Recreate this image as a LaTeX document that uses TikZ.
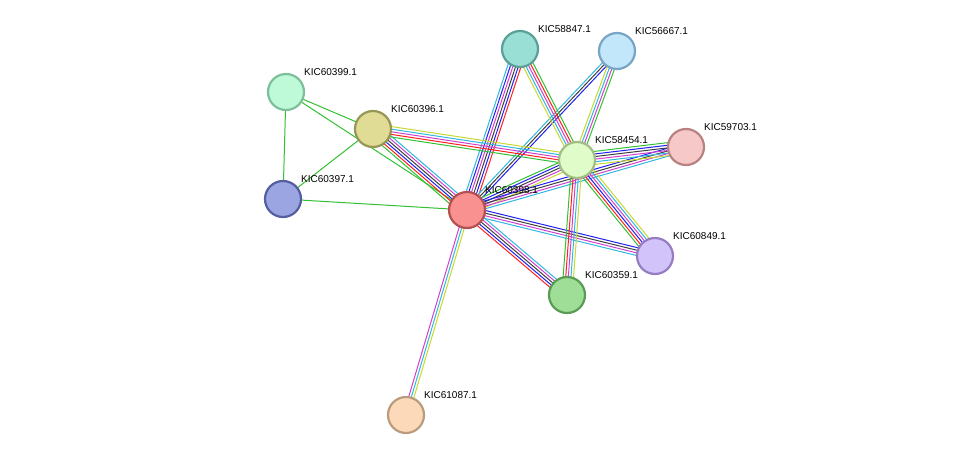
\documentclass[tikz,border=0pt]{standalone}
\usepackage{fontspec}
\setmainfont{Liberation Sans}
\usetikzlibrary{calc}
\definecolor{qg}{HTML}{33C033}\definecolor{qr}{HTML}{FF2020}\definecolor{qb}{HTML}{2020F0}
\definecolor{qk}{HTML}{404040}\definecolor{qm}{HTML}{D040D0}\definecolor{qc}{HTML}{30B8E0}\definecolor{qy}{HTML}{C8D830}
\begin{document}
\begin{tikzpicture}[x=1pt,y=-1pt,
 nd/.style={circle,minimum size=36pt,inner sep=0pt,line width=2.2pt},
 lb/.style={font=\fontsize{10pt}{11pt}\selectfont,anchor=south west,inner sep=1pt}]
\useasboundingbox (0,0) rectangle (975,461);
\newcommand{\E}[3]{\def\lst{#3}%
 \xdef\cnt{0}\foreach \c in \lst{\xdef\cnt{\the\numexpr\cnt+1}}%
 \foreach \c [count=\i] in \lst{\pgfmathsetmacro{\off}{(\i-1-(\cnt-1)/2)*2.6}
  \draw[draw=\c,line width=1pt] ($(#1)!\off pt!90:(#2)$) -- ($(#2)!\off pt!-90:(#1)$);}}
\coordinate (a) at (520,49); \coordinate (b) at (617,51); \coordinate (c) at (286,92);
\coordinate (d) at (373,129); \coordinate (e) at (577,160); \coordinate (f) at (686,147);
\coordinate (g) at (283,199); \coordinate (h) at (467,210); \coordinate (i) at (655,256);
\coordinate (j) at (567,295); \coordinate (k) at (406,415);
\E{c}{g}{qg}\E{c}{d}{qg}\E{c}{h}{qg}\E{d}{g}{qg}\E{g}{h}{qg}
\E{h}{d}{qc,qm,qk,qb,qr,qg}
\E{h}{a}{qr,qb,qk,qm,qb,qc}
\E{h}{b}{qb,qk,qc}
\E{h}{e}{qy,qm,qk,qb,qg}
\E{h}{f}{qc,qm,qk,qb}
\E{h}{i}{qc,qm,qk,qb}
\E{h}{j}{qr,qb,qk,qm,qc}
\E{h}{k}{qm,qc,qy}
\E{d}{e}{qg,qr,qm,qc,qy}
\E{e}{a}{qg,qr,qm,qc,qy}
\E{e}{b}{qg,qm,qc,qy}
\E{e}{f}{qy,qc,qm,qk,qb,qg}
\E{e}{i}{qg,qr,qb,qm,qc,qy}
\E{e}{j}{qg,qr,qm,qc,qy}
\node[nd,fill={rgb,255:red,153;green,223;blue,214},draw={rgb,255:red,90;green,160;blue,150}] (A) at (a) {};
\node[nd,fill={rgb,255:red,194;green,230;blue,250},draw={rgb,255:red,120;green,165;blue,195}] (B) at (b) {};
\node[nd,fill={rgb,255:red,190;green,250;blue,215},draw={rgb,255:red,125;green,190;blue,155}] (C) at (c) {};
\node[nd,fill={rgb,255:red,224;green,220;blue,150},draw={rgb,255:red,150;green,150;blue,85}] (D) at (d) {};
\node[nd,fill={rgb,255:red,224;green,252;blue,200},draw={rgb,255:red,160;green,190;blue,130}] (E) at (e) {};
\node[nd,fill={rgb,255:red,246;green,200;blue,200},draw={rgb,255:red,185;green,130;blue,130}] (F) at (f) {};
\node[nd,fill={rgb,255:red,155;green,165;blue,225},draw={rgb,255:red,85;green,95;blue,160}] (G) at (g) {};
\node[nd,fill={rgb,255:red,250;green,145;blue,145},draw={rgb,255:red,180;green,80;blue,80}] (H) at (h) {};
\node[nd,fill={rgb,255:red,210;green,195;blue,250},draw={rgb,255:red,150;green,125;blue,195}] (I) at (i) {};
\node[nd,fill={rgb,255:red,158;green,222;blue,150},draw={rgb,255:red,90;green,155;blue,85}] (J) at (j) {};
\node[nd,fill={rgb,255:red,252;green,218;blue,185},draw={rgb,255:red,185;green,155;blue,125}] (K) at (k) {};
\node[lb] at (537,34) {KIC58847.1};
\node[lb] at (634,36) {KIC56667.1};
\node[lb] at (303,77) {KIC60399.1};
\node[lb] at (390,114) {KIC60396.1};
\node[lb] at (594,145) {KIC58454.1};
\node[lb] at (703,132) {KIC59703.1};
\node[lb] at (300,184) {KIC60397.1};
\node[lb] at (484,195) {KIC60398.1};
\node[lb] at (672,241) {KIC60849.1};
\node[lb] at (584,280) {KIC60359.1};
\node[lb] at (423,400) {KIC61087.1};
\end{tikzpicture}
\end{document}
